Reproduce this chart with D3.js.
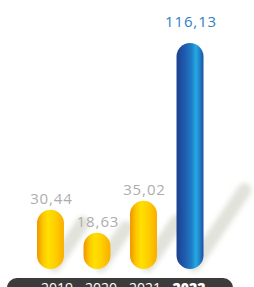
<!DOCTYPE html>
<html>
<head>
<meta charset="utf-8">
<script src="https://cdn.jsdelivr.net/npm/d3@7/dist/d3.min.js"></script>
<style>
html,body{margin:0;padding:0;background:#fff;overflow:hidden;}
svg{display:block;}
</style>
</head>
<body>
<svg id="chart" width="254" height="287"></svg>
<script>
const years = ["2019", "2020", "2021", "2022"];
const values = [30.44, 18.63, 35.02, 116.13];
const valueLabels = ["30,44", "18,63", "35,02", "116,13"];
const highlight = "2022";

const W = 254, H = 287;
const svg = d3.select("#chart");
const defs = svg.append("defs");

const yellow = defs.append("linearGradient").attr("id", "gYellow").attr("x1", "0%").attr("x2", "100%");
[["0%", "#f29400"], ["22%", "#fbc800"], ["42%", "#ffe000"], ["70%", "#ffcc00"], ["100%", "#f8ae00"]]
  .forEach(([o, c]) => yellow.append("stop").attr("offset", o).attr("stop-color", c));
const blue = defs.append("linearGradient").attr("id", "gBlue").attr("x1", "0%").attr("x2", "100%");
[["0%", "#1c3f8e"], ["30%", "#1f5cad"], ["55%", "#1f7cc6"], ["72%", "#25a9e2"], ["86%", "#1f82cb"], ["100%", "#1b4f9e"]]
  .forEach(([o, c]) => blue.append("stop").attr("offset", o).attr("stop-color", c));
const blur = defs.append("filter").attr("id", "blur").attr("x", "-50%").attr("y", "-50%").attr("width", "200%").attr("height", "200%");
blur.append("feGaussianBlur").attr("stdDeviation", 2.5);

const x = d3.scaleBand().domain(years).range([37, 203.5]).paddingInner(0.42).paddingOuter(0);
const y = d3.scaleLinear().domain([0, 116.13]).range([269, 43]);
const data = years.map((yr, i) => ({ yr, v: values[i], lab: valueLabels[i] }));
const bw = x.bandwidth();

// shadows
const dirX = 0.56, dirY = -0.83;
svg.append("g").selectAll("line").data(data).join("line")
  .attr("x1", d => x(d.yr) + bw / 2 + 4)
  .attr("y1", y(0) - 4)
  .attr("x2", d => x(d.yr) + bw / 2 + 4 + (36 + 0.24 * (y(0) - y(d.v))) * dirX)
  .attr("y2", d => y(0) - 4 + (36 + 0.24 * (y(0) - y(d.v))) * dirY)
  .attr("stroke", "#e2e2db")
  .attr("stroke-width", 14)
  .attr("stroke-linecap", "round")
  .attr("filter", "url(#blur)");

// bars
svg.append("g").selectAll("rect").data(data).join("rect")
  .attr("x", d => x(d.yr))
  .attr("y", d => y(d.v))
  .attr("width", bw)
  .attr("height", d => y(0) - y(d.v))
  .attr("rx", bw / 2)
  .attr("fill", d => d.yr === highlight ? "url(#gBlue)" : "url(#gYellow)");

// value labels
svg.append("g").selectAll("text").data(data).join("text")
  .attr("x", d => x(d.yr) + bw / 2 + 1)
  .attr("y", d => y(d.v) - (d.yr === highlight ? 16 : 6))
  .attr("text-anchor", "middle")
  .attr("font-family", "'Open Sans', sans-serif")
  .attr("font-size", 15)
  .attr("letter-spacing", 0.9)
  .attr("fill", d => d.yr === highlight ? "#2f80c3" : "#adadad")
  .text(d => d.lab);

// bottom band with year labels
svg.append("rect").attr("x", 7).attr("y", 278).attr("width", 226).attr("height", 24).attr("rx", 10)
  .attr("fill", "#3b3b3b");
const xl = d3.scalePoint().domain(years).range([57, 189]);
svg.append("g").selectAll("text").data(years).join("text")
  .attr("x", d => xl(d))
  .attr("y", 293)
  .attr("text-anchor", "middle")
  .attr("font-family", "'Open Sans', sans-serif")
  .attr("font-size", 14)
  .attr("font-weight", d => d === highlight ? 800 : 400)
  .attr("fill", "#ffffff")
  .text(d => d);
</script>
</body>
</html>
